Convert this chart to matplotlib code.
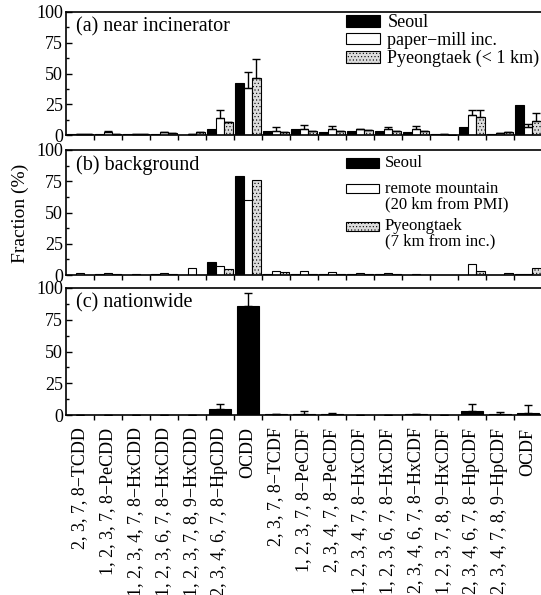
import numpy as np
import matplotlib.pyplot as plt
from matplotlib.patches import Rectangle
from matplotlib.ticker import MultipleLocator, FixedLocator, NullFormatter

plt.rcParams['font.family'] = ['Liberation Serif', 'DejaVu Serif']
plt.rcParams['hatch.linewidth'] = 0.4

congeners = ['2, 3, 7, 8\u2212TCDD', '1, 2, 3, 7, 8\u2212PeCDD', '1, 2, 3, 4, 7, 8\u2212HxCDD',
             '1, 2, 3, 6, 7, 8\u2212HxCDD', '1, 2, 3, 7, 8, 9\u2212HxCDD', '1, 2, 3, 4, 6, 7, 8\u2212HpCDD',
             'OCDD', '2, 3, 7, 8\u2212TCDF', '1, 2, 3, 7, 8\u2212PeCDF', '2, 3, 4, 7, 8\u2212PeCDF',
             '1, 2, 3, 4, 7, 8\u2212HxCDF', '1, 2, 3, 6, 7, 8\u2212HxCDF', '2, 3, 4, 6, 7, 8\u2212HxCDF',
             '1, 2, 3, 7, 8, 9\u2212HxCDF', '1, 2, 3, 4, 6, 7, 8\u2212HpCDF', '1, 2, 3, 4, 7, 8, 9\u2212HpCDF',
             'OCDF']

# (a) near incinerator
a_seoul = [0.5, 1.0, 0.5, 1.0, 0.3, 4.8, 42.5, 3.5, 4.5, 2.7, 3.5, 3.3, 2.7, 0.5, 6.8, 0.8, 24.5]
a_paper = [0.5, 2.5, 0.5, 2.5, 0.8, 13.5, 38.0, 3.0, 4.8, 5.0, 5.0, 5.0, 4.5, 1.2, 16.4, 1.5, 6.8]
a_paper_err = [0, 0.5, 0, 0, 0, 6.5, 13.0, 3.3, 3.0, 2.6, 0, 1.8, 2.8, 0, 3.6, 0, 2.2]
a_pyeong = [0.5, 1.0, 1.0, 1.8, 2.5, 10.5, 46.5, 2.5, 3.0, 3.3, 3.8, 3.3, 3.3, 0.3, 15.0, 2.5, 11.5]
a_pyeong_err = [0, 0, 0, 0, 0, 0, 15.5, 0, 0, 0, 0, 0, 0, 0, 5.0, 0, 6.3]

# (b) background
b_seoul = [0.3, 0.5, 0.3, 0.5, 0.3, 10.7, 79.5, 1.0, 0.5, 0.5, 1.0, 0.5, 0.3, 0.3, 0.3, 0.3, 0.5]
b_remote = [1.5, 1.5, 0.5, 2.0, 5.3, 7.0, 60.0, 3.0, 3.0, 2.5, 1.5, 1.5, 0.5, 0.3, 9.0, 0.3, 0.5]
b_pyeong = [0.3, 0.5, 0.3, 1.0, 0.3, 4.8, 76.0, 2.5, 0.5, 0.5, 1.0, 0.5, 0.3, 0.3, 3.0, 1.5, 5.5]

# (c) nationwide
c_nation = [0.1, 0.1, 0.2, 0.2, 0.2, 4.5, 86.0, 0.5, 1.0, 1.0, 0.3, 0.3, 0.5, 0.1, 3.5, 0.5, 1.5]
c_nation_err = [0, 0, 0, 0, 0, 4.5, 10.0, 0, 2.5, 0.5, 0, 0, 0, 0, 5.0, 1.5, 6.5]

x = np.arange(len(congeners)) + 0.5
w = 0.3
black = dict(facecolor='black', edgecolor='black', linewidth=0.8)
white = dict(facecolor='white', edgecolor='black', linewidth=0.8)
stip = dict(facecolor='#dcdcdc', edgecolor='black', hatch='.....', linewidth=0.8)
ebkw = dict(fmt='none', ecolor='black', elinewidth=1.0, capsize=3, capthick=1.0)

fig = plt.figure(figsize=(5.41, 5.95), dpi=100)
left, width = 66 / 541, 476 / 541
ax_a = fig.add_axes([left, 1 - 135 / 595, width, 123 / 595])
ax_b = fig.add_axes([left, 1 - 275 / 595, width, 125 / 595])
ax_c = fig.add_axes([left, 1 - 415 / 595, width, 127 / 595])

# panel a
ax_a.bar(x - w, a_seoul, w, label='Seoul', **black)
ax_a.bar(x, a_paper, w, label='paper\u2212mill inc.', **white)
ax_a.bar(x + w, a_pyeong, w, label='Pyeongtaek (< 1 km)', **stip)
ax_a.errorbar(x, a_paper, yerr=[np.zeros(len(x)), a_paper_err], **ebkw)
ax_a.errorbar(x + w, a_pyeong, yerr=[np.zeros(len(x)), a_pyeong_err], **ebkw)

# panel b
ax_b.bar(x - w, b_seoul, w, **black)
ax_b.bar(x, b_remote, w, **white)
ax_b.bar(x + w, b_pyeong, w, **stip)

# panel c
ax_c.bar(x, c_nation, 0.76, **black)
ax_c.errorbar(x, c_nation, yerr=[np.zeros(len(x)), c_nation_err], **ebkw)

titles = ['(a) near incinerator', '(b) background', '(c) nationwide']
for ax, t in zip([ax_a, ax_b, ax_c], titles):
    ax.set_xlim(0, 17)
    ax.set_ylim(0, 100)
    ax.spines['right'].set_visible(False)
    for s in ax.spines.values():
        s.set_linewidth(1.2)
    ax.yaxis.set_major_locator(MultipleLocator(25))
    ax.yaxis.set_minor_locator(MultipleLocator(12.5))
    ax.tick_params(axis='y', which='major', direction='in', length=4, width=1, labelsize=13, pad=2)
    ax.tick_params(axis='y', which='minor', direction='in', length=2.5, width=1)
    ax.xaxis.set_major_locator(FixedLocator(np.arange(1, 17)))
    ax.xaxis.set_major_formatter(NullFormatter())
    ax.xaxis.set_minor_locator(FixedLocator(x))
    ax.tick_params(axis='x', which='major', direction='out', length=3.5, width=1)
    ax.tick_params(axis='x', which='minor', length=0)
    ax.text(0.02, 0.955, t, transform=ax.transAxes, ha='left', va='top', fontsize=14.5)

ax_c.set_xticks(x, congeners, minor=True, rotation=90, fontsize=13, va='top')
ax_c.tick_params(axis='x', which='minor', pad=9)

ax_a.legend(loc='upper left', bbox_to_anchor=(0.565, 1.07), frameon=False, fontsize=13,
            handlelength=1.9, handleheight=0.6, handletextpad=0.4, labelspacing=0.05,
            borderaxespad=0.2)

# panel b key: first line of each label sits beside its box
b_keys = [(black, ['Seoul'], 0.896),
          (white, ['remote mountain', '(20 km from PMI)'], 0.69),
          (stip, ['Pyeongtaek', '(7 km from inc.)'], 0.39)]
for style, lines, yk in b_keys:
    ax_b.add_patch(Rectangle((0.588, yk - 0.037), 0.069, 0.074, transform=ax_b.transAxes,
                             clip_on=False, **style))
    for i, ln in enumerate(lines):
        ax_b.text(0.67, yk - i * 0.122, ln, transform=ax_b.transAxes, ha='left',
                  va='center', fontsize=12)

fig.text(0.037, 1 - 213 / 595, 'Fraction (%)', rotation=90, ha='center', va='center', fontsize=14)

fig.savefig('out.png', dpi=100)
